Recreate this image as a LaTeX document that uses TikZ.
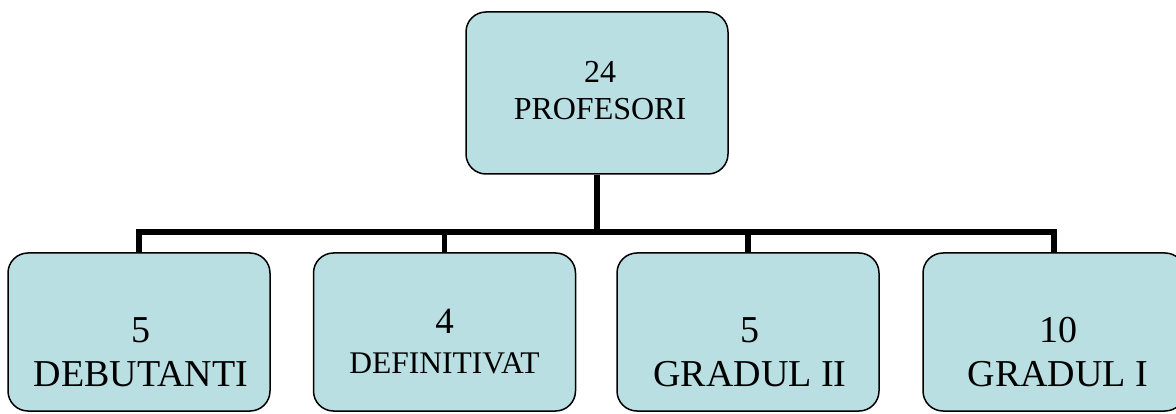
\documentclass[tikz,border=0pt]{standalone}
\usepackage{fontspec}
\setmainfont{Liberation Serif}
\definecolor{boxfill}{HTML}{B9DFE3}
\tikzset{
  orgbox/.style={draw=black, line width=1.5pt, fill=boxfill, rounded corners=20pt,
    minimum width=262pt, inner sep=0pt},
  lbl/.style={align=center, inner sep=0pt, text=black},
  conn/.style={draw=black, line width=5.5pt}
}
\begin{document}
\begin{tikzpicture}[x=1pt,y=-1pt]
\useasboundingbox (0,0) rectangle (1176,414);
\clip (0,0) rectangle (1176,414);
\fill[white] (0,0) rectangle (1176,414);
% boxes
\node[orgbox, minimum height=162pt] (top) at (597,93) {};
\node[orgbox, minimum height=158pt] (b1) at (139,332) {};
\node[orgbox, minimum height=158pt] (b2) at (444.5,332) {};
\node[orgbox, minimum height=158pt] (b3) at (748,332) {};
\node[orgbox, minimum height=158pt] (b4) at (1054,332) {};
% connectors
\coordinate (bus) at (597,232);
\draw[conn] (top.south) -- (bus);
\draw[conn] (b1.north) |- (bus) -| (b4.north);
\draw[conn] (b2.north) -- (b2.north |- bus);
\draw[conn] (b3.north) -- (b3.north |- bus);
% labels
\node[lbl, font=\fontsize{32}{37}\selectfont] (t0) at (600,90.5) {24\\PROFESORI};
\node[lbl, font=\fontsize{38}{44}\selectfont] (t1) at (141,352.5) {5\\DEBUTANTI};
\node[lbl, font=\fontsize{31.5}{40}\selectfont] (t2) at (444.5,341.5) {{\fontsize{37}{40}\selectfont 4}\\DEFINITIVAT};
\node[lbl, font=\fontsize{38}{44}\selectfont] (t3) at (750,352.5) {5\\GRADUL II};
\node[lbl, font=\fontsize{38}{44}\selectfont] (t4) at (1058,352.5) {10\\GRADUL I};
\end{tikzpicture}
\end{document}
